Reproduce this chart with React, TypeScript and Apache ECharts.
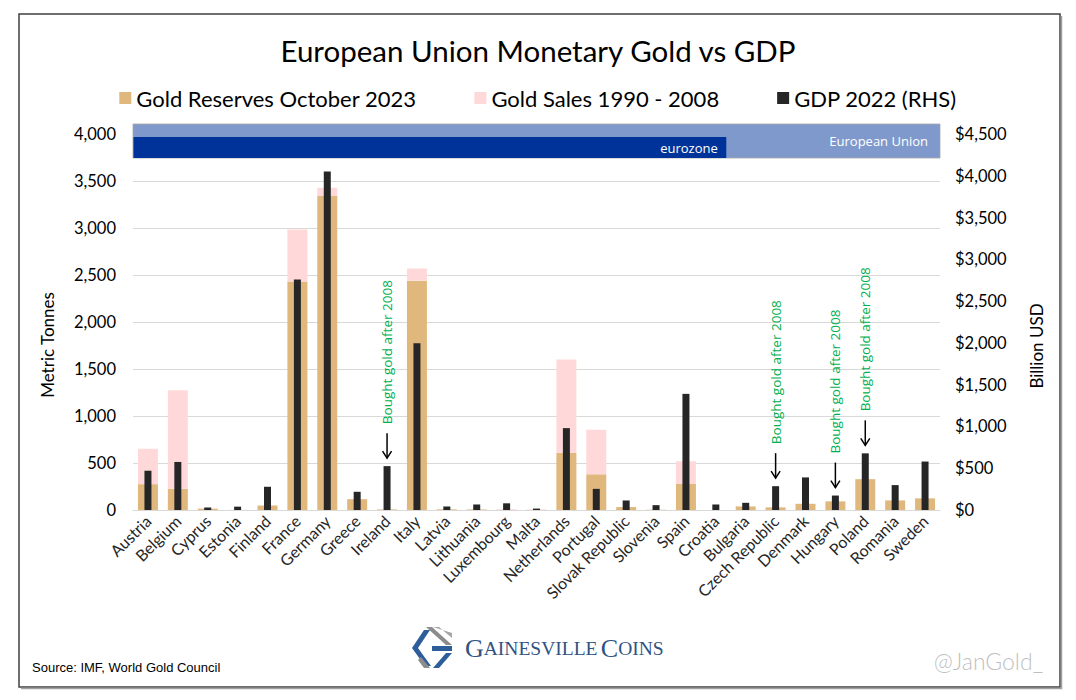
import React, { useEffect, useRef } from 'react';
import * as echarts from 'echarts';

const countries = [
  'Austria', 'Belgium', 'Cyprus', 'Estonia', 'Finland', 'France', 'Germany', 'Greece', 'Ireland',
  'Italy', 'Latvia', 'Lithuania', 'Luxembourg', 'Malta', 'Netherlands', 'Portugal', 'Slovak Republic',
  'Slovenia', 'Spain', 'Croatia', 'Bulgaria', 'Czech Republic', 'Denmark', 'Hungary', 'Poland',
  'Romania', 'Sweden',
];
// Metric tonnes
const goldReserves = [275, 225, 14, 1, 48, 2430, 3340, 115, 6, 2440, 7, 6, 2, 1, 610, 380, 31, 3, 280, 0, 38, 28, 66, 92, 328, 102, 124];
const goldSales = [376, 1050, 4, 0, 0, 554, 88, 0, 0, 129, 0, 0, 8, 6, 991, 473, 0, 0, 239, 0, 0, 0, 0, 0, 0, 0, 0];
// Billion USD
const gdp2022 = [470, 575, 30, 40, 278, 2760, 4050, 218, 525, 1995, 42, 66, 80, 17, 980, 253, 114, 58, 1390, 66, 86, 285, 390, 173, 678, 298, 580];

const leftTicks = { min: 0, max: 4000, interval: 500 };
const rightTicks = { min: 0, max: 4500, interval: 500 };

const bandLabels = ['European Union', 'eurozone'];
const bandStart = ['Austria', 'Austria'];
const bandEnd = ['Sweden', 'Croatia'];

const boughtAfter2008 = ['Ireland', 'Czech Republic', 'Hungary', 'Poland'];
const annotationText = 'Bought gold after 2008';

const seriesNames = ['Gold Reserves October 2023', 'Gold Sales 1990 - 2008', 'GDP 2022 (RHS)'];
const leftAxisName = 'Metric Tonnes';
const rightAxisName = 'Billion USD';

const FONT = 'Lato, "Open Sans", sans-serif';

export default function App() {
  const ref = useRef<HTMLDivElement>(null);

  useEffect(() => {
    const chart = echarts.init(ref.current as HTMLDivElement, null, { renderer: 'svg' });

    const bandData = bandLabels.map((_, k) => [countries.indexOf(bandStart[k]), countries.indexOf(bandEnd[k]), k]);
    const annData = boughtAfter2008.map((c) => {
      const i = countries.indexOf(c);
      return [i, gdp2022[i]];
    });

    const option: any = {
      animation: false,
      backgroundColor: '#ffffff',
      title: {
        text: 'European Union Monetary Gold vs GDP',
        left: 'center',
        top: 30,
        textStyle: { fontFamily: FONT, fontSize: 29.5, fontWeight: 'normal', color: '#000' },
      },
      legend: {
        data: seriesNames,
        top: 82,
        left: 'center',
        itemWidth: 12,
        itemHeight: 12,
        itemGap: 58,
        icon: 'rect',
        textStyle: { fontFamily: FONT, fontSize: 22, color: '#000' },
      },
      grid: { left: 133, right: 136, top: 134, bottom: 190, containLabel: false },
      xAxis: [
        {
          type: 'category',
          data: countries,
          axisTick: { show: false },
          axisLine: { lineStyle: { color: '#D9D9D9', width: 1 } },
          axisLabel: {
            interval: 0,
            rotate: 45,
            margin: 8,
            fontFamily: FONT,
            fontSize: 16,
            color: '#262626',
          },
        },
        { type: 'category', data: countries, show: false },
      ],
      yAxis: [
        {
          type: 'value',
          ...leftTicks,
          axisLine: { show: false },
          axisTick: { show: false },
          axisLabel: {
            fontFamily: FONT,
            fontSize: 16.5,
            color: '#000',
            margin: 17,
            formatter: (v: number) => v.toLocaleString('en-US'),
          },
          splitLine: { lineStyle: { color: '#D9D9D9', width: 1 } },
        },
        {
          type: 'value',
          ...rightTicks,
          position: 'right',
          axisLine: { show: false },
          axisTick: { show: false },
          axisLabel: {
            fontFamily: FONT,
            fontSize: 16.5,
            color: '#000',
            margin: 15,
            formatter: (v: number) => '$' + v.toLocaleString('en-US'),
          },
          splitLine: { show: false },
        },
      ],
      series: [
        {
          name: seriesNames[0],
          type: 'bar',
          stack: 'gold',
          data: goldReserves,
          barWidth: 20,
          itemStyle: { color: '#E0B87E' },
          xAxisIndex: 0,
          yAxisIndex: 0,
        },
        {
          name: seriesNames[1],
          type: 'bar',
          stack: 'gold',
          data: goldSales,
          barWidth: 20,
          itemStyle: { color: '#FFD9D9' },
          xAxisIndex: 0,
          yAxisIndex: 0,
        },
        {
          name: seriesNames[2],
          type: 'bar',
          data: gdp2022,
          barWidth: 7,
          itemStyle: { color: '#262626' },
          xAxisIndex: 1,
          yAxisIndex: 1,
          z: 3,
        },
        {
          type: 'custom',
          name: 'bands',
          xAxisIndex: 0,
          yAxisIndex: 0,
          clip: false,
          silent: true,
          z: 5,
          encode: { x: [0, 1] },
          data: bandData,
          renderItem: (params: any, api: any) => {
            const i0 = api.value(0);
            const i1 = api.value(1);
            const k = api.value(2);
            const w = api.size([1, 0])[0];
            const top = api.coord([i0, leftTicks.max]);
            const x0 = top[0] - w / 2;
            const x1 = api.coord([i1, leftTicks.max])[0] + w / 2;
            const yTop = top[1];
            if (k === 0) {
              return {
                type: 'group',
                children: [
                  {
                    type: 'rect',
                    shape: { x: x0, y: yTop - 10, width: x1 - x0, height: 34 },
                    style: { fill: '#7F99CC', stroke: '#A6A6A6', lineWidth: 0.8 },
                  },
                  {
                    type: 'text',
                    x: x1 - 12,
                    y: yTop + 7,
                    style: {
                      text: bandLabels[k],
                      align: 'right',
                      verticalAlign: 'middle',
                      fill: '#ffffff',
                      fontSize: 13,
                      fontFamily: '"Open Sans", sans-serif',
                    },
                  },
                ],
              };
            }
            return {
              type: 'group',
              children: [
                {
                  type: 'rect',
                  shape: { x: x0 + 0.5, y: yTop + 3, width: x1 - x0 - 5, height: 21 },
                  style: { fill: '#003399' },
                },
                {
                  type: 'text',
                  x: x1 - 13,
                  y: yTop + 14,
                  style: {
                    text: bandLabels[k],
                    align: 'right',
                    verticalAlign: 'middle',
                    fill: '#ffffff',
                    fontSize: 13,
                    fontFamily: '"Open Sans", sans-serif',
                  },
                },
              ],
            };
          },
        },
        {
          type: 'custom',
          name: 'annotations',
          xAxisIndex: 1,
          yAxisIndex: 1,
          clip: false,
          silent: true,
          z: 6,
          encode: { x: 0, y: 1 },
          data: annData,
          renderItem: (params: any, api: any) => {
            const p = api.coord([api.value(0), api.value(1)]);
            const x = p[0];
            const y = p[1];
            return {
              type: 'group',
              children: [
                {
                  type: 'line',
                  shape: { x1: x, y1: y - 33, x2: x, y2: y - 8 },
                  style: { stroke: '#000', lineWidth: 1.5 },
                },
                {
                  type: 'polyline',
                  shape: { points: [[x - 4.5, y - 15], [x, y - 8], [x + 4.5, y - 15]] },
                  style: { stroke: '#000', lineWidth: 1.5, fill: 'none' },
                },
                {
                  type: 'text',
                  x: x,
                  y: y - 42,
                  rotation: Math.PI / 2,
                  style: {
                    text: annotationText,
                    align: 'left',
                    verticalAlign: 'middle',
                    fill: '#00B050',
                    fontSize: 13.5,
                    fontFamily: '"Open Sans", sans-serif',
                  },
                },
              ],
            };
          },
        },
      ],
      graphic: [
        {
          type: 'rect',
          shape: { x: 19, y: 14, width: 1041, height: 673 },
          style: { fill: 'none', stroke: '#404040', lineWidth: 1.5 },
          silent: true,
          z: -1,
        },
        {
          type: 'polyline',
          shape: { points: [[1061.5, 16], [1061.5, 688.5], [21, 688.5]] },
          style: { fill: 'none', stroke: '#A0A0A0', lineWidth: 1.5 },
          silent: true,
        },
        {
          type: 'text',
          x: 47,
          y: 345,
          rotation: Math.PI / 2,
          style: {
            text: leftAxisName,
            fill: '#000',
            fontSize: 17,
            fontFamily: FONT,
            align: 'center',
            verticalAlign: 'middle',
          },
        },
        {
          type: 'text',
          x: 1036,
          y: 346,
          rotation: Math.PI / 2,
          style: {
            text: rightAxisName,
            fill: '#000',
            fontSize: 17,
            fontFamily: FONT,
            align: 'center',
            verticalAlign: 'middle',
          },
        },
        {
          type: 'text',
          x: 32,
          y: 667,
          style: {
            text: 'Source: IMF, World Gold Council',
            fill: '#000',
            fontSize: 13,
            fontFamily: '"Liberation Sans", sans-serif',
            verticalAlign: 'middle',
          },
        },
        {
          type: 'text',
          x: 1043,
          y: 661,
          style: {
            text: '@JanGold_',
            fill: '#BFBFBF',
            fontSize: 23,
            fontWeight: 300,
            fontFamily: FONT,
            align: 'right',
            verticalAlign: 'middle',
          },
        },
        {
          type: 'group',
          x: 412,
          y: 627,
          children: [
            { type: 'polygon', shape: { points: [[14, 0], [20, 0], [40, 18], [34, 18]] }, style: { fill: '#8C8C8C' } },
            { type: 'polygon', shape: { points: [[21, 0], [27, 0], [40, 11], [40, 6]] }, style: { fill: '#A6A6A6' } },
            { type: 'polygon', shape: { points: [[12, 3], [18, 3], [6, 21], [19, 39], [13, 39], [0, 21]] }, style: { fill: '#2E5E9A' } },
            { type: 'polygon', shape: { points: [[20, 19], [40, 19], [40, 24], [20, 24]] }, style: { fill: '#2E5E9A' } },
            { type: 'polygon', shape: { points: [[34, 26], [40, 26], [27, 41], [21, 41]] }, style: { fill: '#2E5E9A' } },
            { type: 'polygon', shape: { points: [[12, 41], [18, 41], [9, 30], [6, 33]] }, style: { fill: '#8C8C8C' } },
          ],
        },
        {
          type: 'text',
          x: 465,
          y: 648,
          style: {
            text: '{b|G}{s|AINESVILLE} {b|C}{s|OINS}',
            verticalAlign: 'middle',
            rich: {
              b: { fontSize: 26, fontFamily: '"Liberation Serif", "DejaVu Serif", serif', fill: '#2F5382', color: '#2F5382' },
              s: { fontSize: 19.5, fontFamily: '"Liberation Serif", "DejaVu Serif", serif', fill: '#2F5382', color: '#2F5382' },
            },
          },
        },
      ],
    };

    chart.setOption(option);
    return () => chart.dispose();
  }, []);

  return (
    <div
      ref={ref}
      style={{ position: 'fixed', left: 0, top: 0, width: 1076, height: 700, background: '#ffffff' }}
    />
  );
}
